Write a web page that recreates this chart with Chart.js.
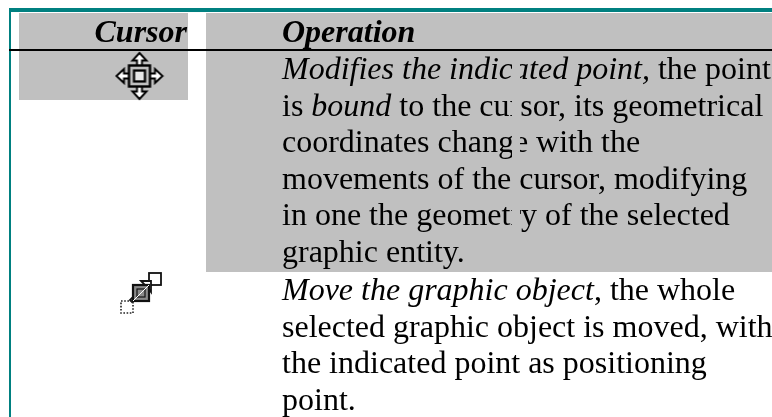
<!DOCTYPE html>
<html>
<head>
<meta charset="utf-8">
<style>
html, body { margin: 0; padding: 0; background: #ffffff; }
#view-canvas { display: block; }
</style>
<script src="https://cdn.jsdelivr.net/npm/chart.js@4/dist/chart.umd.js"></script>
</head>
<body>
<canvas id="view-canvas" width="772" height="417"></canvas>
<script>
// table content, one entry per printed line, runs are [text, italic]
var headerLabels = ['Cursor', 'Operation'];
var firstRowLines = [
    [['Modifies the indicated point,', true], [' the point', false]],
    [['is ', false], ['bound', true], [' to the cursor, its geometrical', false]],
    [['coordinates change with the', false]],
    [['movements of the cursor, modifying', false]],
    [['in one the geometry of the selected', false]],
    [['graphic entity.', false]]
];
var secondRowLines = [
    [['Move the graphic object', true], [', the whole', false]],
    [['selected graphic object is moved, with', false]],
    [['the indicated point as positioning', false]],
    [['point.', false]]
];

// shaded cells and rules, x and y in page units
var cursorCellX = [19, 188, 188, 19, 19];
var cursorCellY = [13, 13, 100, 100, 13];
var operationCellX = [206, 772, 772, 206, 206];
var operationCellY = [13, 13, 272, 272, 13];
var stripX = [512, 520, 520, 512, 512];
var stripY = [52, 52, 240, 240, 52];
var topRuleX = [9, 772];
var topRuleY = [10, 10];
var leftRuleX = [10, 10];
var leftRuleY = [8, 417];
var headerRuleX = [9, 772];
var headerRuleY = [50, 50];
var iconCentersX = [139.5, 141];
var iconCentersY = [76, 294];

function zip(xs, ys) {
    return xs.map(function (x, i) { return { x: x, y: ys[i] }; });
}

function moveIcon() {
    var c = document.createElement('canvas');
    c.width = 50; c.height = 50;
    var g = c.getContext('2d');
    g.translate(25, 25);
    g.strokeStyle = '#000'; g.fillStyle = '#fff'; g.lineWidth = 1.9;
    for (var i = 0; i < 4; i++) {
        g.save();
        g.rotate(i * Math.PI / 2);
        g.beginPath();
        g.moveTo(0, -23); g.lineTo(7, -15.5); g.lineTo(2.5, -15.5); g.lineTo(2.5, -9);
        g.lineTo(-2.5, -9); g.lineTo(-2.5, -15.5); g.lineTo(-7, -15.5); g.closePath();
        g.fill(); g.stroke();
        g.restore();
    }
    g.fillStyle = '#bfbfbf'; g.fillRect(-10.5, -10.5, 21, 21);
    g.lineWidth = 2.4;
    g.strokeRect(-10.5, -10.5, 21, 21);
    g.lineWidth = 2.2;
    g.strokeRect(-5.5, -5.5, 11, 11);
    g.fillStyle = '#e8e8e8'; g.fillRect(-4, -4, 8, 8);
    return c;
}

function dragIcon() {
    var c = document.createElement('canvas');
    c.width = 50; c.height = 50;
    var g = c.getContext('2d');
    g.translate(4, 4);
    g.strokeStyle = '#111'; g.lineWidth = 1.8;
    g.fillStyle = '#fff';
    g.fillRect(29, 0, 12, 12); g.strokeRect(29, 0, 12, 12);
    g.beginPath();
    g.moveTo(21, 8); g.lineTo(31, 8); g.lineTo(31, 19); g.lineTo(28, 15); g.lineTo(12, 29); g.lineTo(10, 27); g.lineTo(25, 12);
    g.closePath(); g.fill(); g.stroke();
    g.fillStyle = '#8a8a8a';
    g.fillRect(13, 12, 16, 16); g.lineWidth = 2.2; g.strokeRect(13, 12, 16, 16);
    g.lineWidth = 1.2; g.strokeRect(17, 16, 8, 8);
    g.strokeStyle = '#fff'; g.lineWidth = 1;
    g.beginPath(); g.moveTo(13, 28); g.lineTo(29, 12); g.stroke();
    g.strokeStyle = '#222';
    g.setLineDash([1.6, 1.6]);
    g.lineWidth = 1.6;
    g.strokeRect(1, 28, 12, 12);
    return c;
}

var OPERATION_CELL = 4;

// prints the table text through the chart's own scales, right after the shaded
// cell so the pale strip that cuts some glyphs can go on top of it
var tableText = {
    id: 'tableText',
    afterDatasetDraw: function (chart, args) {
        if (args.index !== OPERATION_CELL) return;
        var ctx = chart.ctx;
        var sx = chart.scales.x, sy = chart.scales.y;
        var face = '"Liberation Serif"';
        var size = 32;
        var lineHeight = 36.55;

        function printLine(runs, x, y) {
            var px = sx.getPixelForValue(x);
            var py = sy.getPixelForValue(y);
            runs.forEach(function (run) {
                ctx.font = (run[1] ? 'italic ' : '') + size + 'px ' + face;
                ctx.fillText(run[0], px, py);
                px += ctx.measureText(run[0]).width;
            });
        }

        ctx.save();
        ctx.fillStyle = '#000000';
        ctx.textBaseline = 'alphabetic';
        ctx.font = 'italic bold ' + size + 'px ' + face;
        ctx.textAlign = 'right';
        ctx.fillText(headerLabels[0], sx.getPixelForValue(187), sy.getPixelForValue(41.5));
        ctx.textAlign = 'left';
        ctx.fillText(headerLabels[1], sx.getPixelForValue(282), sy.getPixelForValue(41.5));
        firstRowLines.forEach(function (runs, i) { printLine(runs, 282, 79 + i * lineHeight); });
        secondRowLines.forEach(function (runs, i) { printLine(runs, 282, 300 + i * lineHeight); });
        ctx.restore();
    }
};

var myChart = new Chart(document.getElementById('view-canvas'), {
    type: 'scatter',
    data: {
        // first dataset ends up on top, so the cells come last
        datasets: [
            { type: 'line', data: zip(headerRuleX, headerRuleY), borderColor: '#000000', borderWidth: 2, pointRadius: 0 },
            { type: 'line', data: zip(topRuleX, topRuleY), borderColor: '#008080', borderWidth: 4, pointRadius: 0 },
            { type: 'line', data: zip(leftRuleX, leftRuleY), borderColor: '#008080', borderWidth: 2, pointRadius: 0 },
            { type: 'line', data: zip(stripX, stripY), fill: 'shape', backgroundColor: '#c0c0c0', borderWidth: 0, pointRadius: 0, tension: 0 },
            { type: 'line', data: zip(operationCellX, operationCellY), fill: 'shape', backgroundColor: '#c0c0c0', borderWidth: 0, pointRadius: 0, tension: 0 },
            { data: zip(iconCentersX, iconCentersY), pointStyle: [moveIcon(), dragIcon()], pointRadius: 25 },
            { type: 'line', data: zip(cursorCellX, cursorCellY), fill: 'shape', backgroundColor: '#c0c0c0', borderWidth: 0, pointRadius: 0, tension: 0 }
        ]
    },
    options: {
        responsive: false,
        animation: false,
        events: [],
        layout: { padding: 0, autoPadding: false },
        scales: {
            x: { type: 'linear', min: 0, max: 772, display: false },
            y: { type: 'linear', min: 0, max: 417, reverse: true, display: false }
        },
        plugins: { legend: { display: false }, tooltip: { enabled: false } }
    },
    plugins: [tableText]
});
</script>
</body>
</html>
